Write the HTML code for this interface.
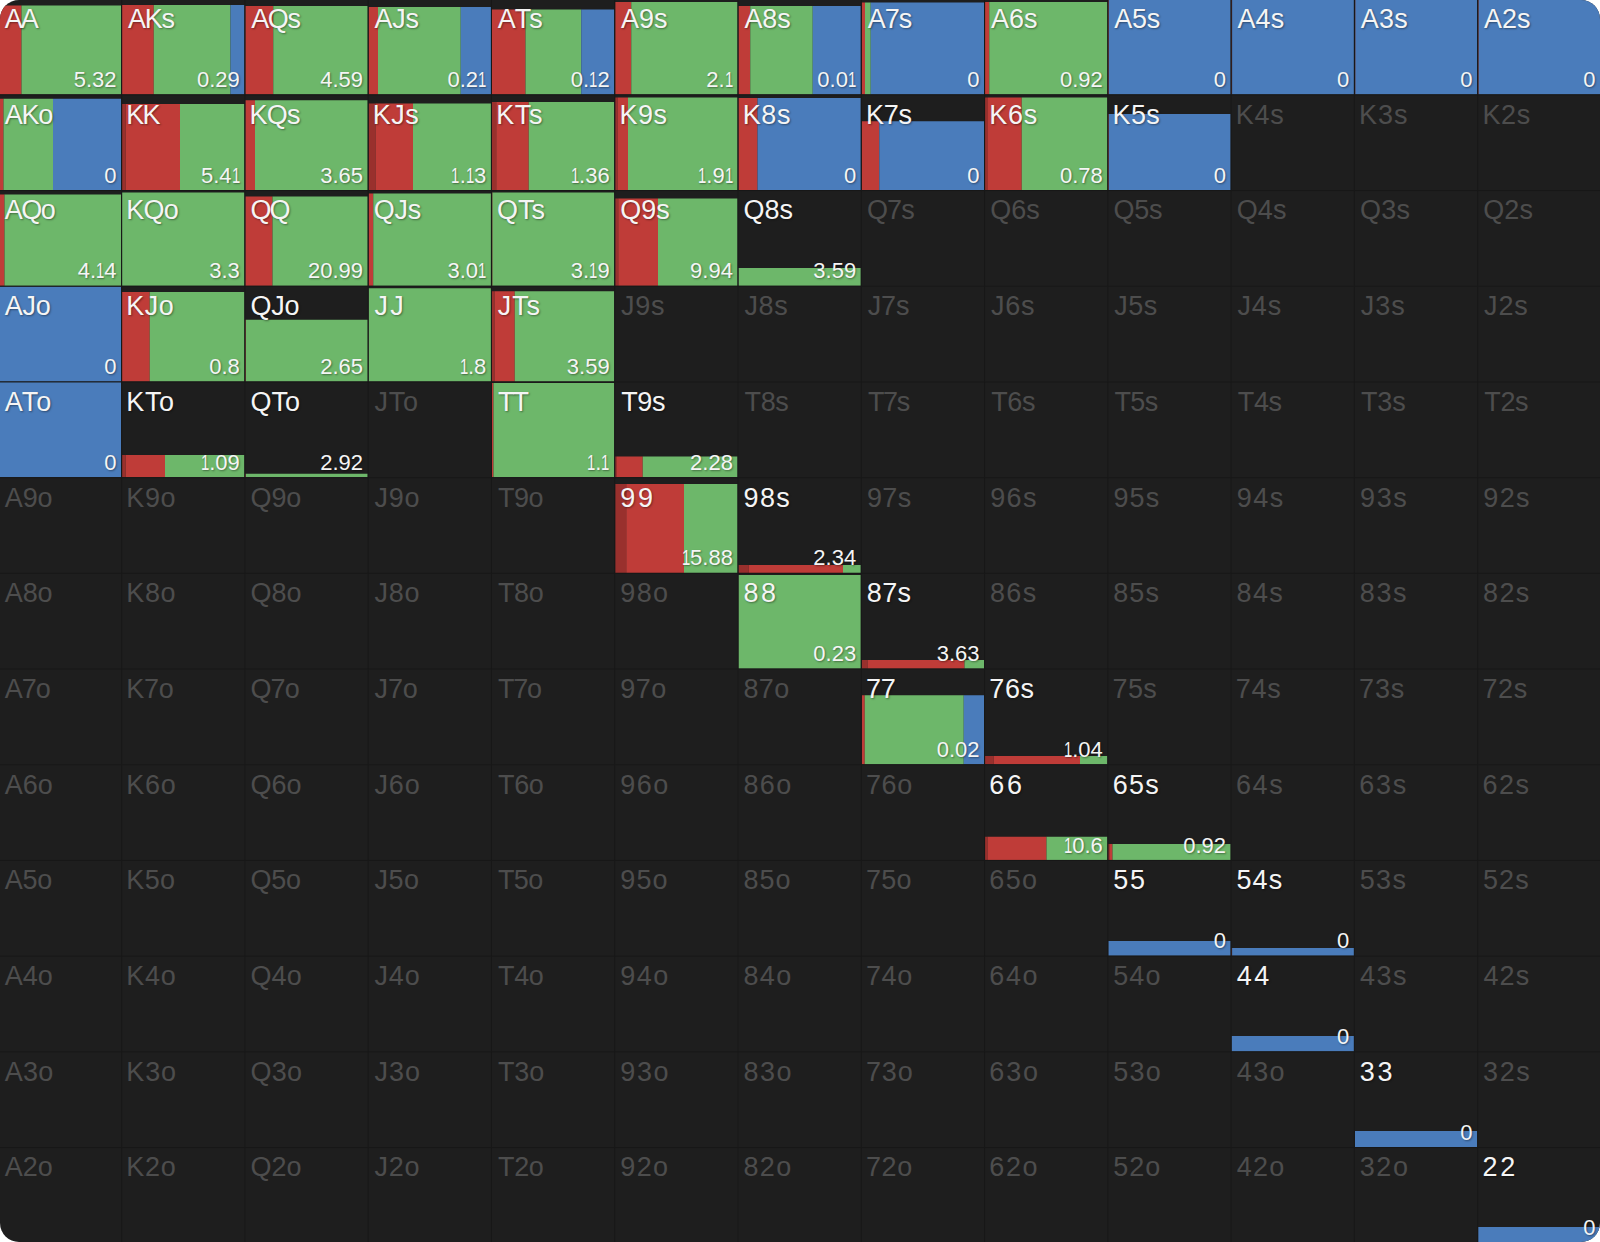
<!DOCTYPE html>
<html lang="en"><head><meta charset="utf-8"><title>Range grid</title>
<style>
html,body{margin:0;padding:0;background:#fff}
#g{position:relative;width:1600px;height:1242px;overflow:hidden;background:#1e1e1e;border-radius:19px;
font-family:"Liberation Sans",Arial,sans-serif}
#g i,#g b,#g u,#g s,#g em{position:absolute;display:block;font-style:normal;font-weight:400;text-decoration:none}
#g u{background:#171717}
.D{fill:#99302d}.R{fill:#bf3c38}.G{fill:#6db76a}.B{fill:#4a7cbb}.r{fill:#a03a40}.L{fill:#181818}
#g b{font-size:27px;line-height:27px;height:27px;white-space:nowrap;color:#4d4d4d;letter-spacing:-0.8px}
#g b.a{color:#f5f5f5;text-shadow:1px 1px 2px rgba(0,0,0,.4)}
#g em{font-size:22px;line-height:22px;height:22px;white-space:nowrap;color:#f5f5f5;text-align:right;text-shadow:1px 1px 2px rgba(0,0,0,.4)}
#g em span{display:inline-block;transform:scaleX(.68);margin:0 -2px}
</style></head><body><div id="g">
<svg width="1600" height="1242" viewBox="0 0 1600 1242" style="position:absolute;left:0;top:0"><rect class="R" x="-1.18" y="5.50" width="22.68" height="88.85"/><rect class="G" x="21.50" y="5.50" width="99.60" height="88.85"/>
<rect class="R" x="122.10" y="5.00" width="31.65" height="89.35"/><rect class="G" x="153.75" y="5.00" width="76.75" height="89.35"/><rect class="B" x="230.50" y="5.00" width="13.88" height="89.35"/>
<rect class="R" x="245.38" y="6.00" width="27.87" height="88.35"/><rect class="G" x="273.25" y="6.00" width="94.41" height="88.35"/>
<rect class="R" x="368.66" y="7.00" width="9.34" height="87.35"/><rect class="G" x="378.00" y="7.00" width="82.75" height="87.35"/><rect class="B" x="460.75" y="7.00" width="30.19" height="87.35"/>
<rect class="R" x="491.94" y="9.50" width="33.56" height="84.85"/><rect class="G" x="525.50" y="9.50" width="55.75" height="84.85"/><rect class="B" x="581.25" y="9.50" width="32.97" height="84.85"/>
<rect class="R" x="615.22" y="2.00" width="16.03" height="92.35"/><rect class="G" x="631.25" y="2.00" width="106.25" height="92.35"/>
<rect class="R" x="738.50" y="6.00" width="11.75" height="88.35"/><rect class="G" x="750.25" y="6.00" width="62.50" height="88.35"/><rect class="B" x="812.75" y="6.00" width="48.03" height="88.35"/>
<rect class="R" x="861.78" y="2.50" width="3.22" height="91.85"/><rect class="G" x="865.00" y="2.50" width="5.75" height="91.85"/><rect class="B" x="870.75" y="2.50" width="113.31" height="91.85"/>
<rect class="R" x="985.06" y="2.00" width="4.19" height="92.35"/><rect class="G" x="989.25" y="2.00" width="118.09" height="92.35"/>
<rect class="R" x="1108.34" y="0.00" width="0.50" height="94.35"/><rect class="B" x="1108.84" y="0.00" width="121.78" height="94.35"/>
<rect class="R" x="1231.62" y="0.00" width="0.50" height="94.35"/><rect class="B" x="1232.12" y="0.00" width="121.78" height="94.35"/>
<rect class="R" x="1354.90" y="0.00" width="0.50" height="94.35"/><rect class="B" x="1355.40" y="0.00" width="121.78" height="94.35"/>
<rect class="R" x="1478.18" y="0.00" width="0.50" height="94.35"/><rect class="B" x="1478.68" y="0.00" width="121.32" height="94.35"/>
<rect class="R" x="-1.18" y="98.75" width="4.68" height="91.30"/><rect class="G" x="3.50" y="98.75" width="49.50" height="91.30"/><rect class="B" x="53.00" y="98.75" width="68.10" height="91.30"/>
<rect class="D" x="122.10" y="104.00" width="3.65" height="86.05"/><rect class="R" x="125.75" y="104.00" width="54.25" height="86.05"/><rect class="G" x="180.00" y="104.00" width="64.38" height="86.05"/>
<rect class="R" x="245.38" y="100.25" width="9.62" height="89.80"/><rect class="G" x="255.00" y="100.25" width="112.66" height="89.80"/>
<rect class="D" x="368.66" y="103.50" width="6.84" height="86.55"/><rect class="R" x="375.50" y="103.50" width="37.50" height="86.55"/><rect class="G" x="413.00" y="103.50" width="77.94" height="86.55"/>
<rect class="D" x="491.94" y="102.00" width="4.31" height="88.05"/><rect class="R" x="496.25" y="102.00" width="32.50" height="88.05"/><rect class="G" x="528.75" y="102.00" width="85.47" height="88.05"/>
<rect class="D" x="615.22" y="97.50" width="2.28" height="92.55"/><rect class="R" x="617.50" y="97.50" width="10.50" height="92.55"/><rect class="G" x="628.00" y="97.50" width="109.50" height="92.55"/>
<rect class="R" x="738.50" y="98.00" width="19.00" height="92.05"/><rect class="B" x="757.50" y="98.00" width="103.28" height="92.05"/>
<rect class="R" x="861.78" y="121.25" width="17.47" height="68.80"/><rect class="B" x="879.25" y="121.25" width="104.81" height="68.80"/>
<rect class="D" x="985.06" y="97.50" width="2.94" height="92.55"/><rect class="R" x="988.00" y="97.50" width="33.75" height="92.55"/><rect class="G" x="1021.75" y="97.50" width="85.59" height="92.55"/>
<rect class="R" x="1108.34" y="114.00" width="0.50" height="76.05"/><rect class="B" x="1108.84" y="114.00" width="121.78" height="76.05"/>
<rect class="R" x="-1.18" y="194.50" width="5.68" height="91.25"/><rect class="G" x="4.50" y="194.50" width="116.60" height="91.25"/>
<rect class="G" x="122.10" y="192.50" width="122.28" height="93.25"/>
<rect class="R" x="245.38" y="196.50" width="27.12" height="89.25"/><rect class="G" x="272.50" y="196.50" width="95.16" height="89.25"/>
<rect class="R" x="368.66" y="193.50" width="4.59" height="92.25"/><rect class="G" x="373.25" y="193.50" width="117.69" height="92.25"/>
<rect class="R" x="491.94" y="192.50" width="0.50" height="93.25"/><rect class="G" x="492.44" y="192.50" width="121.78" height="93.25"/>
<rect class="D" x="615.22" y="198.50" width="3.03" height="87.25"/><rect class="R" x="618.25" y="198.50" width="39.75" height="87.25"/><rect class="G" x="658.00" y="198.50" width="79.50" height="87.25"/>
<rect class="G" x="738.50" y="268.00" width="122.28" height="17.75"/>
<rect class="B" x="-1.18" y="286.50" width="122.28" height="94.95"/>
<rect class="R" x="122.10" y="292.00" width="27.65" height="89.45"/><rect class="G" x="149.75" y="292.00" width="94.63" height="89.45"/>
<rect class="R" x="245.38" y="319.75" width="0.50" height="61.70"/><rect class="G" x="245.88" y="319.75" width="121.78" height="61.70"/>
<rect class="G" x="368.66" y="288.25" width="122.28" height="93.20"/>
<rect class="D" x="491.94" y="291.25" width="2.56" height="90.20"/><rect class="R" x="494.50" y="291.25" width="20.25" height="90.20"/><rect class="G" x="514.75" y="291.25" width="99.47" height="90.20"/>
<rect class="B" x="-1.18" y="382.00" width="122.28" height="95.15"/>
<rect class="D" x="122.10" y="455.00" width="3.65" height="22.15"/><rect class="R" x="125.75" y="455.00" width="39.25" height="22.15"/><rect class="G" x="165.00" y="455.00" width="79.38" height="22.15"/>
<rect class="R" x="245.38" y="473.75" width="0.50" height="3.40"/><rect class="G" x="245.88" y="473.75" width="121.78" height="3.40"/>
<rect class="R" x="491.94" y="383.00" width="1.56" height="94.15"/><rect class="G" x="493.50" y="383.00" width="120.72" height="94.15"/>
<rect class="D" x="615.22" y="456.50" width="1.78" height="20.65"/><rect class="R" x="617.00" y="456.50" width="25.75" height="20.65"/><rect class="G" x="642.75" y="456.50" width="94.75" height="20.65"/>
<rect class="D" x="615.22" y="484.00" width="11.03" height="88.85"/><rect class="R" x="626.25" y="484.00" width="57.75" height="88.85"/><rect class="G" x="684.00" y="484.00" width="53.50" height="88.85"/>
<rect class="D" x="738.50" y="565.00" width="10.25" height="7.85"/><rect class="R" x="748.75" y="565.00" width="94.25" height="7.85"/><rect class="G" x="843.00" y="565.00" width="17.78" height="7.85"/>
<rect class="G" x="738.50" y="575.00" width="122.28" height="93.55"/>
<rect class="D" x="861.78" y="660.00" width="5.72" height="8.55"/><rect class="R" x="867.50" y="660.00" width="97.00" height="8.55"/><rect class="G" x="964.50" y="660.00" width="19.56" height="8.55"/>
<rect class="R" x="861.78" y="695.25" width="2.97" height="69.00"/><rect class="G" x="864.75" y="695.25" width="99.00" height="69.00"/><rect class="B" x="963.75" y="695.25" width="20.31" height="69.00"/>
<rect class="D" x="985.06" y="756.00" width="8.69" height="8.25"/><rect class="R" x="993.75" y="756.00" width="86.25" height="8.25"/><rect class="G" x="1080.00" y="756.00" width="27.34" height="8.25"/>
<rect class="D" x="985.06" y="836.75" width="2.44" height="23.20"/><rect class="R" x="987.50" y="836.75" width="59.00" height="23.20"/><rect class="G" x="1046.50" y="836.75" width="60.84" height="23.20"/>
<rect class="D" x="1108.34" y="844.00" width="1.66" height="15.95"/><rect class="R" x="1110.00" y="844.00" width="2.50" height="15.95"/><rect class="G" x="1112.50" y="844.00" width="118.12" height="15.95"/>
<rect class="B" x="1108.34" y="941.00" width="122.28" height="14.65"/>
<rect class="R" x="1231.62" y="948.00" width="0.50" height="7.65"/><rect class="B" x="1232.12" y="948.00" width="121.78" height="7.65"/>
<rect class="B" x="1231.62" y="1036.00" width="122.28" height="15.35"/>
<rect class="B" x="1354.90" y="1131.00" width="122.28" height="16.05"/>
<rect class="B" x="1478.18" y="1227.00" width="121.82" height="15.00"/>
<rect class="L" x="121.10" y="0" width="1" height="1242"/><rect class="L" x="244.38" y="0" width="1" height="1242"/><rect class="L" x="367.66" y="0" width="1" height="1242"/><rect class="L" x="490.94" y="0" width="1" height="1242"/><rect class="L" x="614.22" y="0" width="1" height="1242"/><rect class="L" x="737.50" y="0" width="1" height="1242"/><rect class="L" x="860.78" y="0" width="1" height="1242"/><rect class="L" x="984.06" y="0" width="1" height="1242"/><rect class="L" x="1107.34" y="0" width="1" height="1242"/><rect class="L" x="1230.62" y="0" width="1" height="1242"/><rect class="L" x="1353.90" y="0" width="1" height="1242"/><rect class="L" x="1477.18" y="0" width="1" height="1242"/><rect class="L" x="0" y="94.35" width="1600" height="1"/><rect class="L" x="0" y="190.05" width="1600" height="1"/><rect class="L" x="0" y="285.75" width="1600" height="1"/><rect class="L" x="0" y="381.45" width="1600" height="1"/><rect class="L" x="0" y="477.15" width="1600" height="1"/><rect class="L" x="0" y="572.85" width="1600" height="1"/><rect class="L" x="0" y="668.55" width="1600" height="1"/><rect class="L" x="0" y="764.25" width="1600" height="1"/><rect class="L" x="0" y="859.95" width="1600" height="1"/><rect class="L" x="0" y="955.65" width="1600" height="1"/><rect class="L" x="0" y="1051.35" width="1600" height="1"/><rect class="L" x="0" y="1147.05" width="1600" height="1"/></svg>
<b class="a" style="left:4.72px;top:6.00px;letter-spacing:-2px">AA</b><em style="right:1483.50px;top:68.95px">5.32</em><b class="a" style="left:128.00px;top:6.00px;letter-spacing:-1.25px">AKs</b><em style="right:1360.22px;top:68.95px">0.29</em><b class="a" style="left:251.28px;top:6.00px;letter-spacing:-1.43px">AQs</b><em style="right:1236.94px;top:68.95px">4.59</em><b class="a" style="left:374.56px;top:6.00px;letter-spacing:-0.23px">AJs</b><em style="right:1113.66px;top:68.95px">0.2<span>1</span></em><b class="a" style="left:497.84px;top:6.00px;letter-spacing:1px">ATs</b><em style="right:990.38px;top:68.95px">0.<span>1</span>2</em><b class="a" style="left:621.12px;top:6.00px;letter-spacing:-0.08px">A9s</b><em style="right:867.10px;top:68.95px">2.<span>1</span></em><b class="a" style="left:744.40px;top:6.00px;letter-spacing:-0.06px">A8s</b><em style="right:743.82px;top:68.95px">0.0<span>1</span></em><b class="a" style="left:867.68px;top:6.00px;letter-spacing:-0.92px">A7s</b><em style="right:620.54px;top:68.95px">0</em><b class="a" style="left:990.96px;top:6.00px;letter-spacing:0.03px">A6s</b><em style="right:497.26px;top:68.95px">0.92</em><b class="a" style="left:1114.24px;top:6.00px;letter-spacing:-0.27px">A5s</b><em style="right:373.98px;top:68.95px">0</em><b class="a" style="left:1237.52px;top:6.00px;letter-spacing:0.05px">A4s</b><em style="right:250.70px;top:68.95px">0</em><b class="a" style="left:1360.80px;top:6.00px;letter-spacing:0.24px">A3s</b><em style="right:127.42px;top:68.95px">0</em><b class="a" style="left:1484.08px;top:6.00px;letter-spacing:0.01px">A2s</b><em style="right:4.60px;top:68.95px">0</em>
<b class="a" style="left:4.72px;top:101.70px;letter-spacing:-1.27px">AKo</b><em style="right:1483.50px;top:164.65px">0</em><b class="a" style="left:126.30px;top:101.70px;letter-spacing:-1.79px">KK</b><em style="right:1360.22px;top:164.65px">5.4<span>1</span></em><b class="a" style="left:249.58px;top:101.70px;letter-spacing:-0.76px">KQs</b><em style="right:1236.94px;top:164.65px">3.65</em><b class="a" style="left:372.86px;top:101.70px;letter-spacing:0.44px">KJs</b><em style="right:1113.66px;top:164.65px"><span>1</span>.<span>1</span>3</em><b class="a" style="left:496.14px;top:101.70px;letter-spacing:0.68px">KTs</b><em style="right:990.38px;top:164.65px"><span>1</span>.36</em><b class="a" style="left:619.42px;top:101.70px;letter-spacing:0.59px">K9s</b><em style="right:867.10px;top:164.65px"><span>1</span>.9<span>1</span></em><b class="a" style="left:742.70px;top:101.70px;letter-spacing:0.61px">K8s</b><em style="right:743.82px;top:164.65px">0</em><b class="a" style="left:865.98px;top:101.70px;letter-spacing:-0.25px">K7s</b><em style="right:620.54px;top:164.65px">0</em><b class="a" style="left:989.26px;top:101.70px;letter-spacing:0.7px">K6s</b><em style="right:497.26px;top:164.65px">0.78</em><b class="a" style="left:1112.54px;top:101.70px;letter-spacing:0.4px">K5s</b><em style="right:373.98px;top:164.65px">0</em><b style="left:1235.82px;top:101.70px;letter-spacing:0.72px">K4s</b><b style="left:1359.10px;top:101.70px;letter-spacing:0.91px">K3s</b><b style="left:1482.38px;top:101.70px;letter-spacing:0.69px">K2s</b>
<b class="a" style="left:4.72px;top:197.40px;letter-spacing:-1.45px">AQo</b><em style="right:1483.50px;top:260.35px">4.<span>1</span>4</em><b class="a" style="left:126.30px;top:197.40px;letter-spacing:-0.78px">KQo</b><em style="right:1360.22px;top:260.35px">3.3</em><b class="a" style="left:250.48px;top:197.40px;letter-spacing:-2px">QQ</b><em style="right:1236.94px;top:260.35px">20.99</em><b class="a" style="left:373.76px;top:197.40px;letter-spacing:-0.19px">QJs</b><em style="right:1113.66px;top:260.35px">3.0<span>1</span></em><b class="a" style="left:497.04px;top:197.40px;letter-spacing:0.04px">QTs</b><em style="right:990.38px;top:260.35px">3.<span>1</span>9</em><b class="a" style="left:620.32px;top:197.40px;letter-spacing:-0.04px">Q9s</b><em style="right:867.10px;top:260.35px">9.94</em><b class="a" style="left:743.60px;top:197.40px;letter-spacing:-0.02px">Q8s</b><em style="right:743.82px;top:260.35px">3.59</em><b style="left:866.88px;top:197.40px;letter-spacing:-0.88px">Q7s</b><b style="left:990.16px;top:197.40px;letter-spacing:0.07px">Q6s</b><b style="left:1113.44px;top:197.40px;letter-spacing:-0.23px">Q5s</b><b style="left:1236.72px;top:197.40px;letter-spacing:0.09px">Q4s</b><b style="left:1360.00px;top:197.40px;letter-spacing:0.28px">Q3s</b><b style="left:1483.28px;top:197.40px;letter-spacing:0.05px">Q2s</b>
<b class="a" style="left:4.72px;top:293.10px;letter-spacing:-0.25px">AJo</b><em style="right:1483.50px;top:356.05px">0</em><b class="a" style="left:126.30px;top:293.10px;letter-spacing:0.42px">KJo</b><em style="right:1360.22px;top:356.05px">0.8</em><b class="a" style="left:250.48px;top:293.10px;letter-spacing:-0.21px">QJo</b><em style="right:1236.94px;top:356.05px">2.65</em><b class="a" style="left:374.56px;top:293.10px;letter-spacing:2.19px">JJ</b><em style="right:1113.66px;top:356.05px"><span>1</span>.8</em><b class="a" style="left:497.84px;top:293.10px;letter-spacing:0.8px">JTs</b><em style="right:990.38px;top:356.05px">3.59</em><b style="left:621.12px;top:293.10px;letter-spacing:0.71px">J9s</b><b style="left:744.40px;top:293.10px;letter-spacing:0.73px">J8s</b><b style="left:867.68px;top:293.10px;letter-spacing:-0.13px">J7s</b><b style="left:990.96px;top:293.10px;letter-spacing:0.82px">J6s</b><b style="left:1114.24px;top:293.10px;letter-spacing:0.52px">J5s</b><b style="left:1237.52px;top:293.10px;letter-spacing:0.84px">J4s</b><b style="left:1360.80px;top:293.10px;letter-spacing:1.03px">J3s</b><b style="left:1484.08px;top:293.10px;letter-spacing:0.81px">J2s</b>
<b class="a" style="left:4.72px;top:388.80px;letter-spacing:0.98px">ATo</b><em style="right:1483.50px;top:451.75px">0</em><b class="a" style="left:126.30px;top:388.80px;letter-spacing:0.65px">KTo</b><em style="right:1360.22px;top:451.75px"><span>1</span>.09</em><b class="a" style="left:250.48px;top:388.80px;letter-spacing:0.02px">QTo</b><em style="right:1236.94px;top:451.75px">2.92</em><b style="left:374.56px;top:388.80px;letter-spacing:0.77px">JTo</b><b class="a" style="left:498.04px;top:388.80px;letter-spacing:-2px">TT</b><em style="right:990.38px;top:451.75px"><span>1</span>.<span>1</span></em><b class="a" style="left:621.32px;top:388.80px;letter-spacing:-0.46px">T9s</b><em style="right:867.10px;top:451.75px">2.28</em><b style="left:744.60px;top:388.80px;letter-spacing:-0.43px">T8s</b><b style="left:867.88px;top:388.80px;letter-spacing:-1.29px">T7s</b><b style="left:991.16px;top:388.80px;letter-spacing:-0.35px">T6s</b><b style="left:1114.44px;top:388.80px;letter-spacing:-0.64px">T5s</b><b style="left:1237.72px;top:388.80px;letter-spacing:-0.33px">T4s</b><b style="left:1361.00px;top:388.80px;letter-spacing:-0.13px">T3s</b><b style="left:1484.28px;top:388.80px;letter-spacing:-0.36px">T2s</b>
<b style="left:4.72px;top:484.50px;letter-spacing:-0.1px">A9o</b><b style="left:126.30px;top:484.50px;letter-spacing:0.57px">K9o</b><b style="left:250.48px;top:484.50px;letter-spacing:-0.06px">Q9o</b><b style="left:374.56px;top:484.50px;letter-spacing:0.69px">J9o</b><b style="left:498.04px;top:484.50px;letter-spacing:-0.48px">T9o</b><b class="a" style="left:620.32px;top:484.50px;letter-spacing:2.6px">99</b><em style="right:867.10px;top:547.45px"><span>1</span>5.88</em><b class="a" style="left:743.60px;top:484.50px;letter-spacing:1.33px">98s</b><em style="right:743.82px;top:547.45px">2.34</em><b style="left:866.88px;top:484.50px;letter-spacing:0.47px">97s</b><b style="left:990.16px;top:484.50px;letter-spacing:1.42px">96s</b><b style="left:1113.44px;top:484.50px;letter-spacing:1.12px">95s</b><b style="left:1236.72px;top:484.50px;letter-spacing:1.44px">94s</b><b style="left:1360.00px;top:484.50px;letter-spacing:1.63px">93s</b><b style="left:1483.28px;top:484.50px;letter-spacing:1.4px">92s</b>
<b style="left:4.72px;top:580.20px;letter-spacing:-0.08px">A8o</b><b style="left:126.30px;top:580.20px;letter-spacing:0.59px">K8o</b><b style="left:250.48px;top:580.20px;letter-spacing:-0.04px">Q8o</b><b style="left:374.56px;top:580.20px;letter-spacing:0.71px">J8o</b><b style="left:498.04px;top:580.20px;letter-spacing:-0.45px">T8o</b><b style="left:620.32px;top:580.20px;letter-spacing:1.31px">98o</b><b class="a" style="left:743.40px;top:580.20px;letter-spacing:2.6px">88</b><em style="right:743.82px;top:643.15px">0.23</em><b class="a" style="left:866.68px;top:580.20px;letter-spacing:0.45px">87s</b><em style="right:620.54px;top:643.15px">3.63</em><b style="left:989.96px;top:580.20px;letter-spacing:1.39px">86s</b><b style="left:1113.24px;top:580.20px;letter-spacing:1.09px">85s</b><b style="left:1236.52px;top:580.20px;letter-spacing:1.41px">84s</b><b style="left:1359.80px;top:580.20px;letter-spacing:1.61px">83s</b><b style="left:1483.08px;top:580.20px;letter-spacing:1.38px">82s</b>
<b style="left:4.72px;top:675.90px;letter-spacing:-0.94px">A7o</b><b style="left:126.30px;top:675.90px;letter-spacing:-0.27px">K7o</b><b style="left:250.48px;top:675.90px;letter-spacing:-0.9px">Q7o</b><b style="left:374.56px;top:675.90px;letter-spacing:-0.15px">J7o</b><b style="left:498.04px;top:675.90px;letter-spacing:-1.31px">T7o</b><b style="left:620.32px;top:675.90px;letter-spacing:0.45px">97o</b><b style="left:743.40px;top:675.90px;letter-spacing:0.43px">87o</b><b class="a" style="left:865.98px;top:675.90px;letter-spacing:-0.27px">77</b><em style="right:620.54px;top:738.85px">0.02</em><b class="a" style="left:989.26px;top:675.90px;letter-spacing:0.63px">76s</b><em style="right:497.26px;top:738.85px"><span>1</span>.04</em><b style="left:1112.54px;top:675.90px;letter-spacing:0.33px">75s</b><b style="left:1235.82px;top:675.90px;letter-spacing:0.65px">74s</b><b style="left:1359.10px;top:675.90px;letter-spacing:0.85px">73s</b><b style="left:1482.38px;top:675.90px;letter-spacing:0.62px">72s</b>
<b style="left:4.72px;top:771.60px;letter-spacing:0.01px">A6o</b><b style="left:126.30px;top:771.60px;letter-spacing:0.68px">K6o</b><b style="left:250.48px;top:771.60px;letter-spacing:0.05px">Q6o</b><b style="left:374.56px;top:771.60px;letter-spacing:0.8px">J6o</b><b style="left:498.04px;top:771.60px;letter-spacing:-0.37px">T6o</b><b style="left:620.32px;top:771.60px;letter-spacing:1.4px">96o</b><b style="left:743.40px;top:771.60px;letter-spacing:1.37px">86o</b><b style="left:865.98px;top:771.60px;letter-spacing:0.61px">76o</b><b class="a" style="left:989.36px;top:771.60px;letter-spacing:2.6px">66</b><em style="right:497.26px;top:834.55px"><span>1</span>0.6</em><b class="a" style="left:1112.64px;top:771.60px;letter-spacing:1.28px">65s</b><em style="right:373.98px;top:834.55px">0.92</em><b style="left:1235.92px;top:771.60px;letter-spacing:1.6px">64s</b><b style="left:1359.20px;top:771.60px;letter-spacing:1.79px">63s</b><b style="left:1482.48px;top:771.60px;letter-spacing:1.56px">62s</b>
<b style="left:4.72px;top:867.30px;letter-spacing:-0.29px">A5o</b><b style="left:126.30px;top:867.30px;letter-spacing:0.38px">K5o</b><b style="left:250.48px;top:867.30px;letter-spacing:-0.25px">Q5o</b><b style="left:374.56px;top:867.30px;letter-spacing:0.5px">J5o</b><b style="left:498.04px;top:867.30px;letter-spacing:-0.67px">T5o</b><b style="left:620.32px;top:867.30px;letter-spacing:1.1px">95o</b><b style="left:743.40px;top:867.30px;letter-spacing:1.07px">85o</b><b style="left:865.98px;top:867.30px;letter-spacing:0.31px">75o</b><b style="left:989.36px;top:867.30px;letter-spacing:1.26px">65o</b><b class="a" style="left:1113.14px;top:867.30px;letter-spacing:1.83px">55</b><em style="right:373.98px;top:930.25px">0</em><b class="a" style="left:1236.42px;top:867.30px;letter-spacing:1.15px">54s</b><em style="right:250.70px;top:930.25px">0</em><b style="left:1359.70px;top:867.30px;letter-spacing:1.35px">53s</b><b style="left:1482.98px;top:867.30px;letter-spacing:1.12px">52s</b>
<b style="left:4.72px;top:963.00px;letter-spacing:0.03px">A4o</b><b style="left:126.30px;top:963.00px;letter-spacing:0.7px">K4o</b><b style="left:250.48px;top:963.00px;letter-spacing:0.07px">Q4o</b><b style="left:374.56px;top:963.00px;letter-spacing:0.82px">J4o</b><b style="left:498.04px;top:963.00px;letter-spacing:-0.35px">T4o</b><b style="left:620.32px;top:963.00px;letter-spacing:1.42px">94o</b><b style="left:743.40px;top:963.00px;letter-spacing:1.39px">84o</b><b style="left:865.98px;top:963.00px;letter-spacing:0.63px">74o</b><b style="left:989.36px;top:963.00px;letter-spacing:1.58px">64o</b><b style="left:1113.14px;top:963.00px;letter-spacing:1.13px">54o</b><b class="a" style="left:1236.82px;top:963.00px;letter-spacing:2.3px">44</b><em style="right:250.70px;top:1025.95px">0</em><b style="left:1360.10px;top:963.00px;letter-spacing:1.41px">43s</b><b style="left:1483.38px;top:963.00px;letter-spacing:1.18px">42s</b>
<b style="left:4.72px;top:1058.70px;letter-spacing:0.22px">A3o</b><b style="left:126.30px;top:1058.70px;letter-spacing:0.89px">K3o</b><b style="left:250.48px;top:1058.70px;letter-spacing:0.26px">Q3o</b><b style="left:374.56px;top:1058.70px;letter-spacing:1.01px">J3o</b><b style="left:498.04px;top:1058.70px;letter-spacing:-0.15px">T3o</b><b style="left:620.32px;top:1058.70px;letter-spacing:1.61px">93o</b><b style="left:743.40px;top:1058.70px;letter-spacing:1.59px">83o</b><b style="left:865.98px;top:1058.70px;letter-spacing:0.83px">73o</b><b style="left:989.36px;top:1058.70px;letter-spacing:1.77px">63o</b><b style="left:1113.14px;top:1058.70px;letter-spacing:1.32px">53o</b><b style="left:1236.82px;top:1058.70px;letter-spacing:1.39px">43o</b><b class="a" style="left:1359.80px;top:1058.70px;letter-spacing:2.6px">33</b><em style="right:127.42px;top:1121.65px">0</em><b style="left:1483.08px;top:1058.70px;letter-spacing:1.58px">32s</b>
<b style="left:4.72px;top:1154.40px;letter-spacing:-0.01px">A2o</b><b style="left:126.30px;top:1154.40px;letter-spacing:0.66px">K2o</b><b style="left:250.48px;top:1154.40px;letter-spacing:0.03px">Q2o</b><b style="left:374.56px;top:1154.40px;letter-spacing:0.78px">J2o</b><b style="left:498.04px;top:1154.40px;letter-spacing:-0.38px">T2o</b><b style="left:620.32px;top:1154.40px;letter-spacing:1.38px">92o</b><b style="left:743.40px;top:1154.40px;letter-spacing:1.36px">82o</b><b style="left:865.98px;top:1154.40px;letter-spacing:0.6px">72o</b><b style="left:989.36px;top:1154.40px;letter-spacing:1.54px">62o</b><b style="left:1113.14px;top:1154.40px;letter-spacing:1.1px">52o</b><b style="left:1236.82px;top:1154.40px;letter-spacing:1.16px">42o</b><b style="left:1359.80px;top:1154.40px;letter-spacing:1.56px">32o</b><b class="a" style="left:1482.58px;top:1154.40px;letter-spacing:2.6px">22</b><em style="right:4.60px;top:1216.60px">0</em>
</div></body></html>
